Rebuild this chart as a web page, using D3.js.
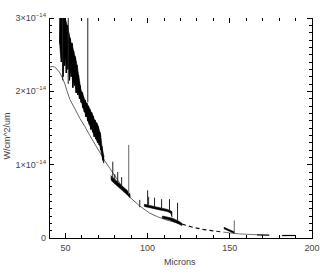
<!DOCTYPE html>
<html><head><meta charset="utf-8">
<script src="https://cdn.jsdelivr.net/npm/d3@7"></script>
<style>
body{margin:0;background:#fff}
svg{display:block}
text{font-family:"Liberation Sans",Arial,sans-serif;fill:#444}
</style>
</head><body>
<svg id="c" width="327" height="273"></svg>
<script>
// ---------- data (flux in units of 1e-14 W/cm^2/um) ----------
const xTicks = [50, 100, 150, 200];
const yTicks = [0, 1, 2, 3];
const yTickMantissa = ["0", "1×10", "2×10", "3×10"];
const yTickExp = ["", "−14", "−14", "−14"];
const xTitle = "Microns";
const yTitle = "W/cm^2/um";

// Noisy spectrum band A (wavelength, lower, upper)
const bandAx  = [46.5,47.0,47.5,48.0,48.5,49.0,49.5,50.0,50.5,51.0,51.5,52.0,52.5,53.0,53.5,54.0,54.5,55.0,55.5,56.0,56.5,57.0,57.5,58.0,58.5,59.0,59.5,60.0,60.5,61.0,61.5,62.0,62.5,63.0,63.5,64.0,64.5,65.0,65.5,66.0,66.5,67.0,67.5,68.0,68.5,69.0,69.5,70.0,70.5,71.0,71.5,72.2,72.8,73.3];
const bandAlo = [2.65,2.50,2.40,2.55,2.20,2.45,2.35,2.50,2.25,2.40,2.30,2.35,2.15,2.28,2.20,2.25,2.05,2.15,2.08,2.10,1.98,2.02,1.95,1.98,1.90,1.92,1.85,1.84,1.78,1.76,1.72,1.70,1.65,1.66,1.60,1.58,1.55,1.52,1.48,1.49,1.45,1.42,1.38,1.40,1.35,1.33,1.30,1.31,1.27,1.25,1.20,1.12,1.06,1.02];
const bandAhi = [3.10,3.10,3.10,3.10,3.10,3.08,3.05,2.98,2.95,2.90,2.90,2.80,2.75,2.72,2.65,2.66,2.60,2.55,2.50,2.47,2.42,2.36,2.30,2.22,2.15,2.08,2.02,1.99,1.98,1.93,1.90,1.88,1.85,1.84,1.82,1.80,1.78,1.75,1.72,1.71,1.68,1.66,1.62,1.61,1.58,1.57,1.55,1.52,1.48,1.44,1.40,1.25,1.18,1.12];

// Band B
const bandBx  = [77.8,78.5,79.5,80.5,81.5,82.5,83.5,84.5,85.5,86.5,87.5,88.5,89.3];
const bandBlo = [0.79,0.77,0.75,0.73,0.71,0.69,0.67,0.65,0.63,0.61,0.59,0.57,0.55];
const bandBhi = [0.85,0.83,0.81,0.79,0.77,0.75,0.73,0.71,0.69,0.67,0.65,0.62,0.60];

// Band C (upper part)
const bandC1x  = [98.0,100.0,102.0,104.0,106.0,108.0,110.0,112.0,114.0,114.8];
const bandC1lo = [0.43,0.42,0.41,0.40,0.39,0.38,0.37,0.36,0.34,0.29];
const bandC1hi = [0.46,0.45,0.44,0.43,0.42,0.41,0.40,0.39,0.37,0.36];
// Band C (lower part)
const bandC2x  = [109.0,111.0,113.0,115.0,117.0,119.0,120.8];
const bandC2lo = [0.27,0.26,0.25,0.23,0.21,0.19,0.17];
const bandC2hi = [0.30,0.29,0.28,0.27,0.25,0.23,0.20];

// Band D
const bandDx  = [146.5,148.5,150.5,152.7];
const bandDlo = [0.125,0.105,0.085,0.065];
const bandDhi = [0.145,0.125,0.105,0.085];

// Short black pieces at long wavelengths
const tailX1 = [166.5,174.0], tailY1 = [0.042,0.040];
const tailX2 = [181.8,189.7], tailY2 = [0.034,0.034];

// Spikes (wavelength, lower, upper)
const darkSpikeX  = [48.3,51.7,63.6,78.8,80.0,81.8,84.2,95.2,100.0,100.6,104.2,108.5,113.3,118.2];
const darkSpikeLo = [2.15,2.10,1.85,0.80,0.76,0.76,0.70,0.42,0.44,0.44,0.42,0.40,0.37,0.23];
const darkSpikeHi = [3.10,3.10,3.10,1.04,0.87,0.90,0.83,0.52,0.65,0.56,0.55,0.53,0.53,0.48];
const graySpikeX  = [88.5,152.7];
const graySpikeLo = [0.60,0.07];
const graySpikeHi = [1.27,0.24];

// Smooth model curve
const modelX = [40.6,42.0,43.5,45.0,46.7,48.0,49.7,51.0,52.7,55.8,58.8,61.8,64.8,67.9,70.9,74.0,77.0,80.0,83.0,86.0,89.0,95.0,101.2,106.0,111.5,119.4,121.0];
const modelY = [2.33,2.34,2.33,2.30,2.25,2.19,2.10,2.00,1.89,1.76,1.63,1.52,1.40,1.28,1.17,1.05,0.95,0.85,0.75,0.65,0.56,0.44,0.34,0.29,0.245,0.20,0.19];
const dashX = [121.0,127.0,133.0,139.0,146.0];
const dashY = [0.19,0.15,0.12,0.10,0.08];
const model2X = [146.0,150.0,155.8,161.0,166.5];
const model2Y = [0.08,0.07,0.055,0.05,0.045];

// ---------- drawing ----------
const svg = d3.select("#c");
const L = 49, R = 312, T = 18, B = 238;
const x = d3.scaleLinear().domain([40, 200]).range([L, R]);
const y = d3.scaleLinear().domain([0, 3]).range([B, T]);

svg.append("defs").append("clipPath").attr("id","clip")
  .append("rect").attr("x",L).attr("y",T).attr("width",R-L).attr("height",B-T);
const g = svg.append("g").attr("clip-path","url(#clip)");

const line = d3.line().x(d=>x(d[0])).y(d=>y(d[1]));
const area = d3.area().x(d=>x(d[0])).y0(d=>y(d[1])).y1(d=>y(d[2]));
const zip2 = (a,b)=>a.map((v,i)=>[v,b[i]]);
const zip3 = (a,b,c)=>a.map((v,i)=>[v,b[i],c[i]]);

// model
g.append("path").attr("d", line(zip2(modelX, modelY)))
  .attr("fill","none").attr("stroke","#555").attr("stroke-width",0.9);
g.append("path").attr("d", line(zip2(dashX, dashY)))
  .attr("fill","none").attr("stroke","#111").attr("stroke-width",1.2)
  .attr("stroke-dasharray","4,3");
g.append("path").attr("d", line(zip2(model2X, model2Y)))
  .attr("fill","none").attr("stroke","#666").attr("stroke-width",0.9);

// bands
[[bandAx,bandAlo,bandAhi],[bandBx,bandBlo,bandBhi],[bandC1x,bandC1lo,bandC1hi],
 [bandC2x,bandC2lo,bandC2hi],[bandDx,bandDlo,bandDhi]].forEach(b=>{
  g.append("path").attr("d", area(zip3(b[0],b[1],b[2])))
    .attr("fill","#000").attr("stroke","#000").attr("stroke-width",0.6);
});
// zigzag trace inside band A (noisy look)
const zig = bandAx.map((v,i)=>[v, i%2 ? bandAhi[i] : bandAlo[i]]);
g.append("path").attr("d", line(zig)).attr("fill","none").attr("stroke","#000").attr("stroke-width",1);

[[tailX1,tailY1],[tailX2,tailY2]].forEach(t=>{
  g.append("path").attr("d", line(zip2(t[0],t[1])))
    .attr("fill","none").attr("stroke","#000").attr("stroke-width",1.2);
});

// spikes
g.selectAll("line.ds").data(zip3(darkSpikeX,darkSpikeLo,darkSpikeHi)).enter()
  .append("line").attr("x1",d=>x(d[0])).attr("x2",d=>x(d[0]))
  .attr("y1",d=>y(d[1])).attr("y2",d=>y(d[2]))
  .attr("stroke","#222").attr("stroke-width",1);
g.selectAll("line.gs").data(zip3(graySpikeX,graySpikeLo,graySpikeHi)).enter()
  .append("line").attr("x1",d=>x(d[0])).attr("x2",d=>x(d[0]))
  .attr("y1",d=>y(d[1])).attr("y2",d=>y(d[2]))
  .attr("stroke","#666").attr("stroke-width",1);

// axes frame
const ax = svg.append("g").attr("stroke","#000").attr("stroke-width",1).attr("shape-rendering","crispEdges");
ax.append("line").attr("x1",L).attr("x2",L).attr("y1",T).attr("y2",B+0.5);
ax.append("line").attr("x1",R).attr("x2",R).attr("y1",T).attr("y2",B+0.5);
ax.append("line").attr("x1",L).attr("x2",R).attr("y1",B).attr("y2",B);

// x ticks (inward, bottom and top)
const xMinor = d3.range(40, 201, 10);
xMinor.forEach(v=>{
  const major = xTicks.includes(v);
  const len = major ? 5 : 3;
  ax.append("line").attr("x1",x(v)).attr("x2",x(v)).attr("y1",B).attr("y2",B-len);
  ax.append("line").attr("x1",x(v)).attr("x2",x(v)).attr("y1",T).attr("y2",T+len);
});
// y ticks (inward, left and right)
const yMinor = d3.range(0, 31).map(i=>i/10);
yMinor.forEach((v,i)=>{
  const major = i % 10 === 0;
  const len = major ? 5 : 3;
  ax.append("line").attr("x1",L).attr("x2",L+len).attr("y1",y(v)).attr("y2",y(v));
  ax.append("line").attr("x1",R).attr("x2",R-len).attr("y1",y(v)).attr("y2",y(v));
});

// labels
xTicks.forEach(v=>{
  svg.append("text").attr("x",x(v)).attr("y",251).attr("text-anchor","middle")
    .attr("font-size",9).text(v);
});
yTicks.forEach((v,i)=>{
  const t = svg.append("text").attr("x",46).attr("y",y(v)+3).attr("text-anchor","end")
    .attr("font-size",9);
  t.append("tspan").text(yTickMantissa[i]);
  if (yTickExp[i]) t.append("tspan").attr("dy",-4).attr("font-size",6).text(yTickExp[i]);
});
svg.append("text").attr("x",x(119.5)).attr("y",265).attr("text-anchor","middle")
  .attr("font-size",9).text(xTitle);
svg.append("text").attr("transform","translate(10,136) rotate(-90)")
  .attr("text-anchor","middle").attr("font-size",9).text(yTitle);
</script>
</body></html>
